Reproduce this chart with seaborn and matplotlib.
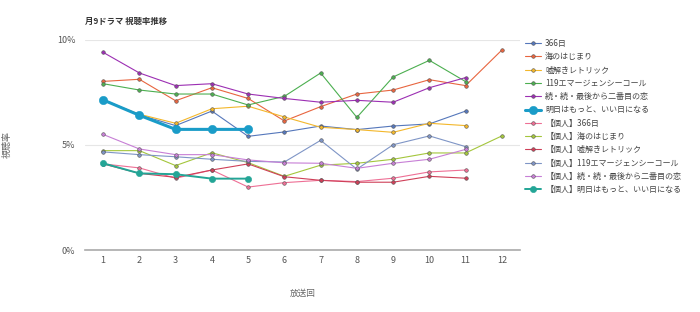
import matplotlib
matplotlib.use("Agg")
import matplotlib.pyplot as plt
import seaborn as sns
import pandas as pd
import numpy as np

episodes = list(range(1, 13))

s366 = [7.15, 6.42, 5.91, 6.60, 5.40, 5.61, 5.89, 5.72, 5.89, 5.99, 6.60]
umi = [8.01, 8.11, 7.09, 7.71, 7.20, 6.13, 6.81, 7.41, 7.60, 8.09, 7.81, 9.50]
usotoki = [7.10, 6.45, 6.02, 6.71, 6.83, 6.32, 5.83, 5.72, 5.59, 6.02, 5.91]
er119 = [7.90, 7.60, 7.41, 7.41, 6.89, 7.30, 8.41, 6.30, 8.22, 9.01, 8.00]
saigo = [9.39, 8.41, 7.81, 7.90, 7.41, 7.20, 7.02, 7.11, 7.02, 7.71, 8.19]
ashita = [7.13, 6.40, 5.73, 5.73, 5.73]

k366 = [4.09, 3.90, 3.41, 3.80, 2.99, 3.20, 3.31, 3.25, 3.41, 3.71, 3.80]
kumi = [4.72, 4.72, 4.01, 4.62, 4.15, 3.50, 4.03, 4.12, 4.31, 4.61, 4.61, 5.42]
kuso = [4.09, 3.64, 3.45, 3.80, 4.09, 3.48, 3.31, 3.22, 3.22, 3.50, 3.41]
k119 = [4.66, 4.53, 4.43, 4.31, 4.21, 4.18, 5.21, 3.84, 5.00, 5.42, 4.91]
ksaigo = [5.49, 4.80, 4.53, 4.53, 4.28, 4.14, 4.12, 3.88, 4.12, 4.31, 4.78]
kashita = [4.12, 3.64, 3.60, 3.39, 3.39]

names = ["366日", "海のはじまり", "嘘解きレトリック", "119エマージェンシーコール",
         "続・続・最後から二番目の恋", "明日はもっと、いい日になる",
         "【個人】366日", "【個人】海のはじまり", "【個人】嘘解きレトリック",
         "【個人】119エマージェンシーコール", "【個人】続・続・最後から二番目の恋",
         "【個人】明日はもっと、いい日になる"]
series = [s366, umi, usotoki, er119, saigo, ashita,
          k366, kumi, kuso, k119, ksaigo, kashita]
colors = ["#5577bb", "#e8653f", "#f3b72b", "#4caf50", "#9c2fb3", "#1a9cc8",
          "#ee6f95", "#a4c63c", "#cf3f58", "#7f95c6", "#c77fd6", "#23a596"]

sns.set_theme(style="white")
plt.rcParams['font.family'] = ['Noto Sans CJK JP', 'DejaVu Sans']

fig = plt.figure(figsize=(7.0, 3.12), dpi=100)
ax = fig.add_axes([85/700, 1-250/312, 435/700, 210.5/312])

for i, (name, vals, col) in enumerate(zip(names, series, colors)):
    df = pd.DataFrame({"ep": episodes[:len(vals)], "v": vals})
    if i == 5:
        lw, ms = 2.2, 6
        mec = col
    elif i == 11:
        lw, ms = 1.4, 4.5
        mec = col
    else:
        lw, ms = 0.8, 2.6
        mec = "#555555"
    sns.lineplot(data=df, x="ep", y="v", ax=ax, color=col, linewidth=lw,
                 marker="o", markersize=ms, markeredgewidth=0.4,
                 markeredgecolor=mec, label=name, zorder=3 if i in (5, 11) else 2)

ax.set_xlim(0.5, 12.5)
ax.set_ylim(0, 10)
ax.set_xticks(episodes)
ax.set_yticks([0, 5, 10])
ax.set_yticklabels(["0%", "5%", "10%"])
for sp in ["top", "right", "left"]:
    ax.spines[sp].set_visible(False)
ax.spines["bottom"].set_color("#aaaaaa")
ax.spines["bottom"].set_linewidth(1.2)
ax.grid(axis="y", color="#e6e6e6", linewidth=0.8)
ax.grid(axis="x", visible=False)
ax.tick_params(axis="both", labelsize=6.5, colors="#555555", length=0)
ax.tick_params(axis="x", pad=4.5)
ax.tick_params(axis="y", pad=7)

ax.set_xlabel("放送回", fontsize=6.2, color="#666666", style="italic")
ax.xaxis.set_label_coords(0.5, -0.185)
ax.set_ylabel("視聴率", fontsize=6.5, color="#666666", style="italic")
ax.yaxis.set_label_coords(-0.168, 0.5)

fig.text(85/700, 1-21/312, "月9ドラマ 視聴率推移", fontsize=6, fontweight="bold",
         color="#333333", va="center", ha="left")

leg = ax.legend(loc="upper left", bbox_to_anchor=(525/700, 1-39/312),
                bbox_transform=fig.transFigure, frameon=False, fontsize=5.8,
                handlelength=2.0, handletextpad=0.5, labelspacing=0.53,
                borderaxespad=0, borderpad=0)
for t in leg.get_texts():
    t.set_color("#444444")

fig.savefig("out.png", dpi=100, facecolor="white")
